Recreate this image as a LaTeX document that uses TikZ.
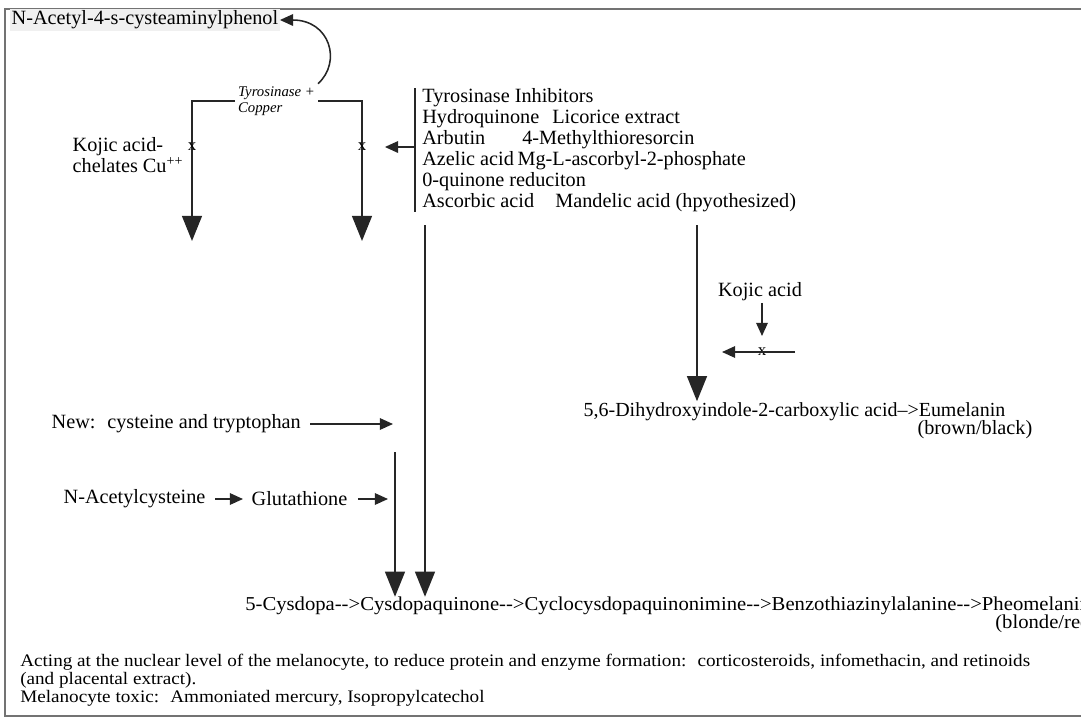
\documentclass[tikz,border=0pt]{standalone}
\usepackage{fontspec}
\setmainfont{Liberation Serif}
\newfontfamily\chainfont[FakeStretch=1.05]{Liberation Serif}
\newfontfamily\notefont[FakeStretch=1.09]{Liberation Serif}
\usetikzlibrary{arrows.meta}
\tikzset{
  lbl/.style={font=\fontsize{14.4}{14.9}\selectfont, inner sep=1pt, align=left},
  enz/.style={font=\fontsize{10.5}{11}\selectfont\itshape, inner sep=2pt, align=left},
  xm/.style={font=\fontsize{12}{12}\selectfont, inner sep=0pt},
  chn/.style={font=\chainfont\fontsize{14}{14}\selectfont, inner sep=0pt, align=left},
  note/.style={font=\notefont\fontsize{12.5}{12.7}\selectfont, inner sep=0pt, align=left},
  ln/.style={line width=1.1pt, draw=black!85},
  big/.style={ln, -{Triangle[length=6.3mm, width=5mm]}},
  med/.style={ln, -{Triangle[length=3.3mm, width=2.9mm]}},
  frm/.style={line width=1.8pt, draw=black!55}
}
\begin{document}
\begin{tikzpicture}[x=0.025cm, y=-0.025cm]
\useasboundingbox (0,0) rectangle (1081,719);
\draw[frm] (1081,9) -- (5,9) -- (5,716) -- (1081,716);
% tyrosinase branch
\node[lbl, fill=black!6, anchor=west] (nac) at (10,20) {N-Acetyl-4-s-cysteaminylphenol};
\node[enz, anchor=west] (tyr) at (235,101) {Tyrosinase +\\Copper};
\coordinate (al) at (192,241);
\coordinate (ar) at (362,241);
\draw[big] (tyr.west) -| (al);
\draw[big] (tyr.east) -| (ar);
\draw[med] (tyr.north east) .. controls (342,62) and (330,20) .. (nac.east);
\node[xm] (x1) at (192,147) {x};
\node[xm] (x2) at (362,147) {x};
\node[lbl, anchor=west] (kca) at (71,155) {Kojic acid-\\chelates Cu\textsuperscript{++}};
% inhibitors
\node[lbl, anchor=west, inner xsep=1.75mm, inner ysep=0pt] (inh) at (415,150) {Tyrosinase Inhibitors\\
  \makebox[32.5mm][l]{Hydroquinone}Licorice extract\\
  \makebox[25mm][l]{Arbutin}4-Methylthioresorcin\\
  \makebox[23.8mm][l]{Azelic acid}Mg-L-ascorbyl-2-phosphate\\
  0-quinone reduciton\\
  \makebox[33.25mm][l]{Ascorbic acid}Mandelic acid (hpyothesized)};
\draw[ln] (inh.north west) -- (inh.south west);
\draw[med, shorten >=4.6mm] (inh.west |- x2) -- (x2);
% eumelanin
\node[lbl, font=\fontsize{14.2}{14.7}\selectfont, anchor=west] (eum) at (582,412) {5,6-Dihydroxyindole-2-carboxylic acid-->Eumelanin};
\node[lbl, anchor=east] (brb) at (1034,430) {(brown/black)};
\coordinate (p2) at (697,225);
\draw[big] (p2) -- (p2 |- eum.north);
\node[lbl, anchor=center] (kja) at (760,292) {Kojic acid};
\node[xm] (x3) at (762,352) {x};
\coordinate (h1) at (795,352);
\coordinate (h2) at (722,352);
\draw[med] (kja.south -| x3) -- ([yshift=0.4cm]x3.center);
\draw[med] (h1) -- (h2);
% pheomelanin
\node[chn, anchor=west] (chain) at (245,606) {5-Cysdopa-->Cysdopaquinone-->Cyclocysdopaquinonimine-->Benzothiazinylalanine-->Pheomelanin};
\node[chn, anchor=west] (blr) at (995,624) {(blonde/red)};
\coordinate (p1) at (425,225);
\draw[big] (p1) -- (p1 |- chain.north);
\node[lbl, anchor=west] (new) at (50,424) {New:~ cysteine and tryptophan};
\coordinate (n1) at (393,424);
\draw[med, shorten <=2mm] (new.east) -- (n1);
\coordinate (p3) at (395,452);
\draw[big] (p3) -- (p3 |- chain.north);
\node[lbl, anchor=west] (nacys) at (62,499) {N-Acetylcysteine};
\node[lbl, anchor=west] (glu) at (250,499) {Glutathione};
\coordinate (g1) at (388,499);
\draw[med, shorten <=2mm, shorten >=1.75mm] (nacys) -- (glu);
\draw[med, shorten <=2.25mm] (glu) -- (g1);
% notes
\node[note, anchor=north west] (fn) at (20,654) {Acting at the nuclear level of the melanocyte, to reduce protein and enzyme formation:~ corticosteroids, infomethacin, and retinoids\\
  (and placental extract).\\
  Melanocyte toxic:~ Ammoniated mercury, Isopropylcatechol};
\end{tikzpicture}
\end{document}
